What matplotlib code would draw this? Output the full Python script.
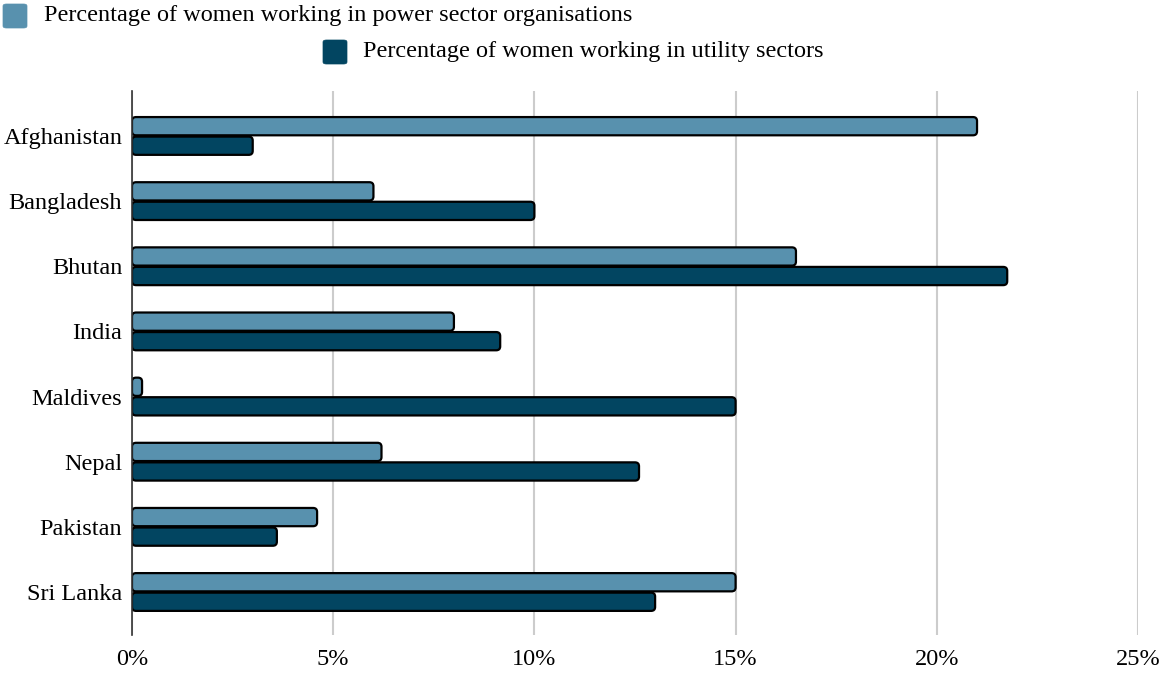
import numpy as np
import matplotlib
matplotlib.use("Agg")
import matplotlib.pyplot as plt
from matplotlib.patches import FancyBboxPatch

countries = ["Afghanistan", "Bangladesh", "Bhutan", "India", "Maldives", "Nepal", "Pakistan", "Sri Lanka"]
power_pct = [21.0, 6.0, 16.5, 8.0, 0.25, 6.2, 4.6, 15.0]
utility_pct = [3.0, 10.0, 21.75, 9.15, 15.0, 12.6, 3.6, 13.0]
series_names = ["Percentage of women working in power sector organisations",
                "Percentage of women working in utility sectors"]
xticks = [0, 5, 10, 15, 20, 25]

light = "#5891ae"
dark = "#024561"
W, H = 1160, 675

plt.rcParams['font.family'] = ['Liberation Serif', 'DejaVu Serif']

fig = plt.figure(figsize=(W / 100, H / 100), dpi=100)
ax = fig.add_axes([132 / W, 1 - 635 / H, (1138 - 132) / W, (635 - 91) / H])

y = np.arange(len(countries))
h = 0.28
bars1 = ax.barh(y - 0.15, power_pct, height=h, color=light)
bars2 = ax.barh(y + 0.15, utility_pct, height=h, color=dark)

# swap plain rectangles for rounded ones
for bars, col in [(bars1, light), (bars2, dark)]:
    for r in bars:
        x0, y0 = r.get_x(), r.get_y()
        w, hh = r.get_width(), r.get_height()
        r.set_visible(False)
        p = FancyBboxPatch((x0, y0), w, hh,
                           boxstyle="round,pad=0,rounding_size=0.1",
                           mutation_aspect=0.6,
                           facecolor=col, edgecolor="black", linewidth=1.6,
                           zorder=3)
        ax.add_patch(p)

ax.set_xlim(0, 25)
ax.set_ylim(7.66, -0.69)
ax.set_xticks(xticks)
ax.set_xticklabels([f"{t}%" for t in xticks], fontsize=17.5)
ax.set_yticks(y)
ax.set_yticklabels(countries, fontsize=17.5)
ax.tick_params(axis="both", length=0)
ax.tick_params(axis="x", pad=10)
ax.tick_params(axis="y", pad=7)
ax.xaxis.grid(True, color="#cccccc", linewidth=1.5, zorder=0)
ax.set_axisbelow(True)
for s in ["top", "right", "bottom"]:
    ax.spines[s].set_visible(False)
ax.spines["left"].set_color("#333333")
ax.spines["left"].set_linewidth(1.2)
ax.spines["left"].set_zorder(4)

# legend: two rows, second one indented
for (px, py, tx), name, col in zip([(3, 16, 44), (323, 52, 363)], series_names, [light, dark]):
    fig.patches.append(FancyBboxPatch((px / W, 1 - (py + 12) / H), 24 / W, 24 / H,
                                      boxstyle="round,pad=0,rounding_size=0.003",
                                      transform=fig.transFigure, facecolor=col,
                                      edgecolor=col, linewidth=0.5))
    fig.text(tx / W, 1 - py / H, name, fontsize=17.5, ha="left", va="center")

fig.savefig("out.png", dpi=100, facecolor="white")
